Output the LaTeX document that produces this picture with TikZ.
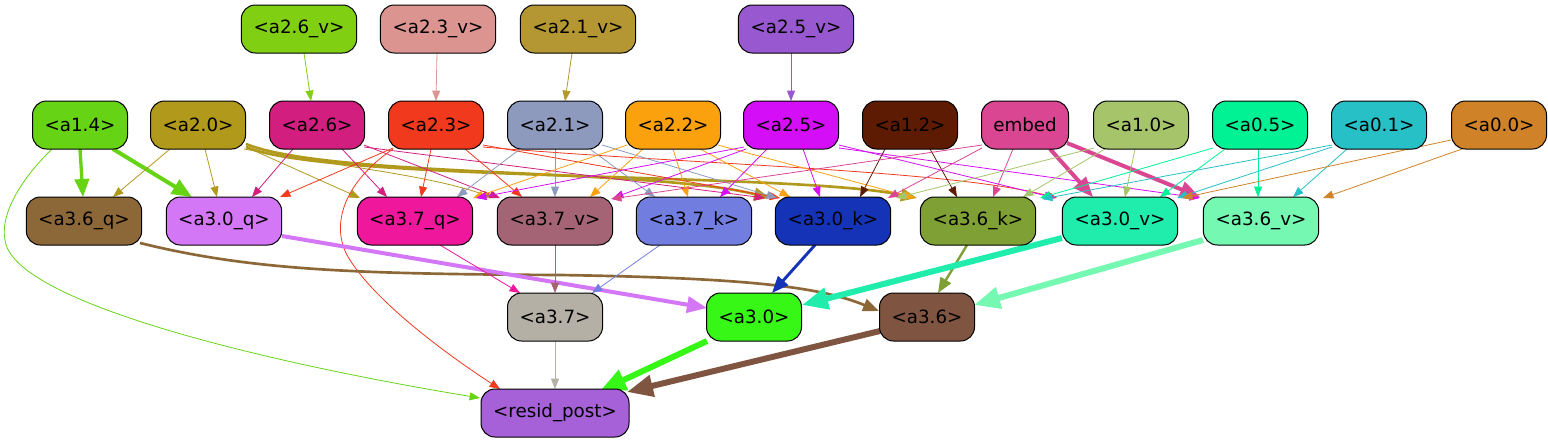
\documentclass[tikz,border=0pt]{standalone}
\usepackage{fontspec}
\setmainfont{DejaVu Sans}
\usetikzlibrary{arrows.meta,calc}
\pgfdeclarelayer{bg}
\pgfsetlayers{bg,main}
\definecolor{cA26v}{HTML}{80CF12}
\definecolor{cA23v}{HTML}{DC9490}
\definecolor{cA21v}{HTML}{B49632}
\definecolor{cA25v}{HTML}{9758D0}
\definecolor{cA14}{HTML}{66D414}
\definecolor{cA20}{HTML}{B1991B}
\definecolor{cA26}{HTML}{D11E7F}
\definecolor{cA23}{HTML}{F1391E}
\definecolor{cA21}{HTML}{8E9ABD}
\definecolor{cA22}{HTML}{FBA10E}
\definecolor{cA25}{HTML}{D50EF8}
\definecolor{cA12}{HTML}{5E1B03}
\definecolor{cEmb}{HTML}{DB4693}
\definecolor{cA10}{HTML}{A6C46A}
\definecolor{cA05}{HTML}{00F295}
\definecolor{cA01}{HTML}{27C0C6}
\definecolor{cA00}{HTML}{CF8228}
\definecolor{cA36q}{HTML}{8C6838}
\definecolor{cA30q}{HTML}{D477F6}
\definecolor{cA37q}{HTML}{EF189C}
\definecolor{cA37v}{HTML}{A46476}
\definecolor{cA37k}{HTML}{717EE0}
\definecolor{cA30k}{HTML}{1533B7}
\definecolor{cA36k}{HTML}{7FA034}
\definecolor{cA30v}{HTML}{20EDAC}
\definecolor{cA36v}{HTML}{75F8B2}
\definecolor{cA37}{HTML}{B4B0A5}
\definecolor{cA30}{HTML}{37F716}
\definecolor{cA36}{HTML}{7F5541}
\definecolor{cRes}{HTML}{A660D8}
\tikzset{
  nd/.style={draw=black, line width=0.75pt, rounded corners=10.5pt, minimum height=36pt,
    inner sep=0pt, text=black, font=\fontsize{13.7}{16}\selectfont},
  wS/.style={minimum width=71.25pt},
  wM/.style={minimum width=86.5pt},
  e/.style={line width=0.6pt, -{Triangle[length=6pt 3, width=4.5pt 2.5]}},
}
\begin{document}
\begin{tikzpicture}[x=0.75pt,y=-0.75pt]
\useasboundingbox (0,0) rectangle (1548,443);
% row 1
\node[nd,wM,fill=cA26v] (a26v) at (299,29) {<a2.6\_v>};
\node[nd,wM,fill=cA23v] (a23v) at (438,29) {<a2.3\_v>};
\node[nd,wM,fill=cA21v] (a21v) at (578,29) {<a2.1\_v>};
\node[nd,wM,fill=cA25v] (a25v) at (796,29) {<a2.5\_v>};
% row 2
\node[nd,wS,fill=cA14] (a14) at (80,125) {<a1.4>};
\node[nd,wS,fill=cA20] (a20) at (198,125) {<a2.0>};
\node[nd,wS,fill=cA26] (a26) at (317,125) {<a2.6>};
\node[nd,wS,fill=cA23] (a23) at (436,125) {<a2.3>};
\node[nd,wS,fill=cA21] (a21) at (555,125) {<a2.1>};
\node[nd,wS,fill=cA22] (a22) at (673,125) {<a2.2>};
\node[nd,wS,fill=cA25] (a25) at (791,125) {<a2.5>};
\node[nd,wS,fill=cA12] (a12) at (910,125) {<a1.2>};
\node[nd,minimum width=65.25pt,fill=cEmb] (emb) at (1025,125) {embed};
\node[nd,wS,fill=cA10] (a10) at (1141,125) {<a1.0>};
\node[nd,wS,fill=cA05] (a05) at (1260,125) {<a0.5>};
\node[nd,wS,fill=cA01] (a01) at (1379,125) {<a0.1>};
\node[nd,wS,fill=cA00] (a00) at (1499,125) {<a0.0>};
% row 3
\node[nd,wM,fill=cA36q] (a36q) at (84,221) {<a3.6\_q>};
\node[nd,wM,fill=cA30q] (a30q) at (224,221) {<a3.0\_q>};
\node[nd,wM,fill=cA37q] (a37q) at (415,221) {<a3.7\_q>};
\node[nd,wM,fill=cA37v] (a37v) at (555,221) {<a3.7\_v>};
\node[nd,wM,fill=cA37k] (a37k) at (694,221) {<a3.7\_k>};
\node[nd,wM,fill=cA30k] (a30k) at (833,221) {<a3.0\_k>};
\node[nd,wM,fill=cA36k] (a36k) at (978,221) {<a3.6\_k>};
\node[nd,wM,fill=cA30v] (a30v) at (1120,221) {<a3.0\_v>};
\node[nd,wM,fill=cA36v] (a36v) at (1261,221) {<a3.6\_v>};
% row 4
\node[nd,wS,fill=cA37] (a37) at (555,317) {<a3.7>};
\node[nd,wS,fill=cA30] (a30) at (754,317) {<a3.0>};
\node[nd,wS,fill=cA36] (a36) at (927,317) {<a3.6>};
\node[nd,minimum width=111pt,fill=cRes] (res) at (555,413) {<resid\_post>};

\begin{pgfonlayer}{bg}
% top row
\draw[e,cA26v] ($(a26v)+(5,24)$) -- ($(a26)+(-6,-24)$);
\draw[e,cA23v] ($(a23v)+(-1,24)$) -- ($(a23)+(0,-24)$);
\draw[e,cA21v] ($(a21v)+(-6,24)$) -- ($(a21)+(10,-24)$);
\draw[e,cA25v] ($(a25v)+(-5,24)$) -- ($(a25)+(0,-24)$);
% a1.4
\draw[e,cA14,line width=2.5pt] ($(a14)+(0,24)$) -- ($(a36q)+(-1,-24)$);
\draw[e,cA14,line width=3pt] ($(a14)+(33,24)$) -- ($(a30q)+(-32,-24)$);
\draw[e,cA14] ($(a14)+(-28,24)$) .. controls (20,180) and (0,215) .. (5,240) .. controls (12,300) and (250,360) .. ($(res)+(-75,-15)$);
% a2.0
\draw[e,cA20] ($(a20)+(-28,24)$) -- ($(a36q)+(29,-24)$);
\draw[e,cA20] ($(a20)+(7,24)$) -- ($(a30q)+(-7,-24)$);
\draw[e,cA20] ($(a20)+(48,22)$) -- ($(a37q)+(-55,-23)$);
\draw[e,cA20] ($(a20)+(46,24)$) .. controls (330,165) and (430,175) .. ($(a37v)+(-62,-23)$);
\draw[e,cA20,line width=2pt] ($(a20)+(48,19)$) .. controls (330,178) and (650,168) .. ($(a30k)+(-63,-23)$);
\draw[e,cA20,line width=2pt] ($(a20)+(48,22)$) .. controls (330,182) and (790,172) .. ($(a36k)+(-61,-23)$);
% a2.6
\draw[e,cA26] ($(a26)+(-24,24)$) -- ($(a30q)+(28,-24)$);
\draw[e,cA26] ($(a26)+(25,24)$) -- ($(a37q)+(-28,-24)$);
\draw[e,cA26] ($(a26)+(47,20)$) -- ($(a37v)+(-55,-23)$);
\draw[e,cA26] ($(a26)+(47,22)$) -- ($(a30k)+(-68,-23)$);
% a2.3
\draw[e,cA23] ($(a23)+(-43,23)$) -- ($(a30q)+(56,-24)$);
\draw[e,cA23] ($(a23)+(-5,24)$) -- ($(a37q)+(6,-24)$);
\draw[e,cA23] ($(a23)+(29,24)$) -- ($(a37v)+(-33,-24)$);
\draw[e,cA23] ($(a23)+(47,20)$) -- ($(a30k)+(-53,-23)$);
\draw[e,cA23] ($(a23)+(47,22)$) .. controls (700,165) and (950,170) .. ($(a30v)+(-63,-23)$);
\draw[e,cA23] ($(a23)+(-43,24)$) .. controls (340,185) and (330,230) .. (350,260) .. controls (375,300) and (440,350) .. ($(res)+(-55,-24)$);
% a2.1
\draw[e,cA21] ($(a21)+(-35,24)$) -- ($(a37q)+(42,-24)$);
\draw[e,cA21] ($(a21)+(0,24)$) -- ($(a37v)+(0,-24)$);
\draw[e,cA21] ($(a21)+(35,24)$) -- ($(a37k)+(-39,-24)$);
\draw[e,cA21] ($(a21)+(47,20)$) -- ($(a30k)+(-56,-23)$);
% a2.2
\draw[e,cA22] ($(a22)+(-46,20)$) -- ($(a37q)+(58,-23)$);
\draw[e,cA22] ($(a22)+(-30,24)$) -- ($(a37v)+(35,-24)$);
\draw[e,cA22] ($(a22)+(0,24)$) -- ($(a37k)+(-6,-24)$);
\draw[e,cA22] ($(a22)+(27,24)$) -- ($(a30k)+(-43,-24)$);
\draw[e,cA22] ($(a22)+(45,20)$) -- ($(a36k)+(-63,-23)$);
% a2.5
\draw[e,cA25] ($(a25)+(-47,22)$) -- ($(a37q)+(61,-23)$);
\draw[e,cA25] ($(a25)+(-45,24)$) -- ($(a37v)+(58,-23)$);
\draw[e,cA25] ($(a25)+(-24,24)$) -- ($(a37k)+(26,-24)$);
\draw[e,cA25] ($(a25)+(12,24)$) -- ($(a30k)+(-13,-24)$);
\draw[e,cA25] ($(a25)+(48,20)$) -- ($(a30v)+(-65,-23)$);
\draw[e,cA25] ($(a25)+(48,23)$) -- ($(a36v)+(-61,-23)$);
% a1.2
\draw[e,cA12] ($(a12)+(-25,24)$) -- ($(a30k)+(27,-24)$);
\draw[e,cA12] ($(a12)+(20,24)$) -- ($(a36k)+(-21,-24)$);
% embed
\draw[e,cEmb] ($(emb)+(-43,20)$) -- ($(a37v)+(56,-22)$);
\draw[e,cEmb] ($(emb)+(-43,23)$) -- ($(a30k)+(55,-23)$);
\draw[e,cEmb] ($(emb)+(-12,24)$) -- ($(a36k)+(15,-24)$);
\draw[e,cEmb,line width=3pt] ($(emb)+(25,24)$) -- ($(a30v)+(-27,-24)$);
\draw[e,cEmb,line width=3pt] ($(emb)+(42,18)$) -- ($(a36v)+(-61,-24)$);
% a1.0
\draw[e,cA10] ($(a10)+(-47,23)$) -- ($(a30k)+(63,-23)$);
\draw[e,cA10] ($(a10)+(-36,24)$) -- ($(a36k)+(45,-24)$);
\draw[e,cA10] ($(a10)+(-6,24)$) -- ($(a30v)+(5,-24)$);
% a0.5
\draw[e,cA05] ($(a05)+(-47,23)$) -- ($(a36k)+(62,-23)$);
\draw[e,cA05] ($(a05)+(-35,24)$) -- ($(a30v)+(40,-24)$);
\draw[e,cA05] ($(a05)+(-2,24)$) -- ($(a36v)+(-3,-24)$);
% a0.1
\draw[e,cA01] ($(a01)+(-47,20)$) -- ($(a36k)+(64,-22)$);
\draw[e,cA01] ($(a01)+(-47,22)$) -- ($(a30v)+(57,-23)$);
\draw[e,cA01] ($(a01)+(-32,24)$) -- ($(a36v)+(32,-24)$);
% a0.0
\draw[e,cA00] ($(a00)+(-48,15)$) -- ($(a30v)+(62,-23)$);
\draw[e,cA00] ($(a00)+(-37,24)$) -- ($(a36v)+(62,-23)$);
% row 3 -> row 4
\draw[e,cA36q,line width=2pt] ($(a36q)+(56,22)$) .. controls (250,270) and (350,274) .. (560,275) .. controls (750,278) and (820,287) .. ($(a36)+(-48,-6)$);
\draw[e,cA30q,line width=3pt] ($(a30q)+(58,15)$) -- ($(a30)+(-47,-9)$);
\draw[e,cA37q] ($(a37q)+(25,24)$) -- ($(a37)+(-35,-24)$);
\draw[e,cA37v] ($(a37v)+(0,24)$) -- ($(a37)+(0,-24)$);
\draw[e,cA37k] ($(a37k)+(-34,24)$) -- ($(a37)+(37,-24)$);
\draw[e,cA30k,line width=2.2pt] ($(a30k)+(-18,24)$) -- ($(a30)+(18,-24)$);
\draw[e,cA36k,line width=1.8pt] ($(a36k)+(-11,24)$) -- ($(a36)+(11,-24)$);
\draw[e,cA30v,line width=4.5pt] ($(a30v)+(-58,17)$) -- ($(a30)+(48,-12)$);
\draw[e,cA36v,line width=4.5pt] ($(a36v)+(-58,19)$) -- ($(a36)+(47,-12)$);
% row 4 -> resid
\draw[e,cA37] ($(a37)+(0,24)$) -- ($(res)+(0,-24)$);
\draw[e,cA30,line width=4.5pt] ($(a30)+(-47,24)$) -- ($(res)+(45,-22)$);
\draw[e,cA36,line width=4.5pt] ($(a36)+(-47,14)$) -- ($(res)+(72,-21)$);
\end{pgfonlayer}
\end{tikzpicture}
\end{document}
